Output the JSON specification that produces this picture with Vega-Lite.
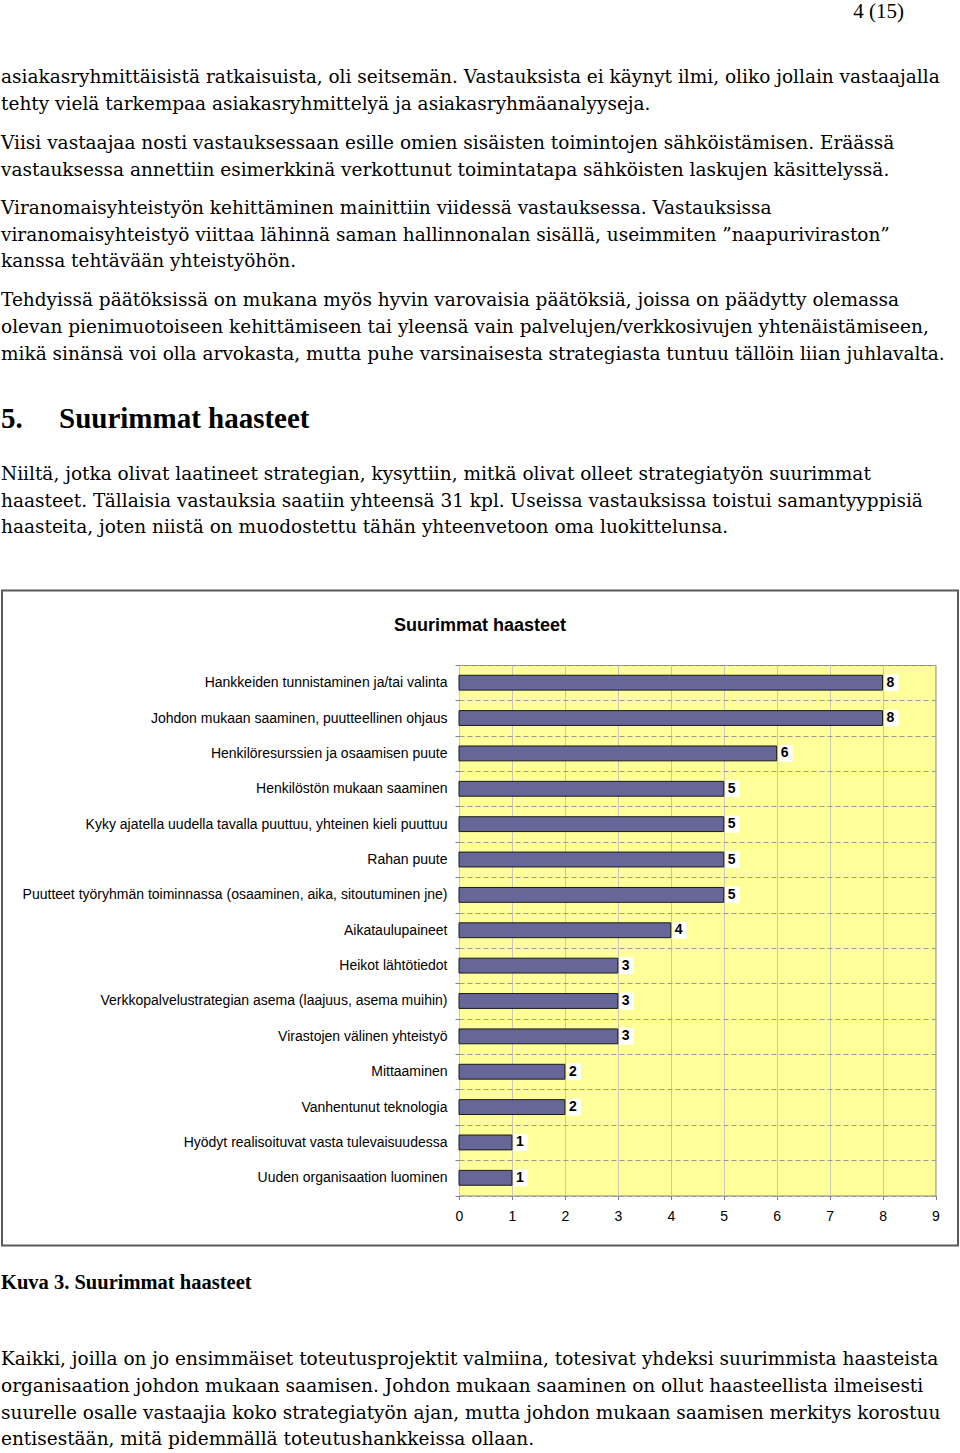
{
  "$schema": "https://vega.github.io/schema/vega-lite/v6.json",
  "padding": 0,
  "background": "white",
  "config": {"view": {"stroke": null}},
  "columns": 1,
  "spacing": 0,
  "bounds": "full",
  "datasets": {
    "header": [{"line": 1, "text": "4 (15)"}],
    "p1": [
      {"line": 1, "text": "asiakasryhmittäisistä ratkaisuista, oli seitsemän. Vastauksista ei käynyt ilmi, oliko jollain vastaajalla"},
      {"line": 2, "text": "tehty vielä tarkempaa asiakasryhmittelyä ja asiakasryhmäanalyyseja."}
    ],
    "p2": [
      {"line": 1, "text": "Viisi vastaajaa nosti vastauksessaan esille omien sisäisten toimintojen sähköistämisen. Eräässä"},
      {"line": 2, "text": "vastauksessa annettiin esimerkkinä verkottunut toimintatapa sähköisten laskujen käsittelyssä."}
    ],
    "p3": [
      {"line": 1, "text": "Viranomaisyhteistyön kehittäminen mainittiin viidessä vastauksessa. Vastauksissa"},
      {"line": 2, "text": "viranomaisyhteistyö viittaa lähinnä saman hallinnonalan sisällä, useimmiten ”naapuriviraston”"},
      {"line": 3, "text": "kanssa tehtävään yhteistyöhön."}
    ],
    "p4": [
      {"line": 1, "text": "Tehdyissä päätöksissä on mukana myös hyvin varovaisia päätöksiä, joissa on päädytty olemassa"},
      {"line": 2, "text": "olevan pienimuotoiseen kehittämiseen tai yleensä vain palvelujen/verkkosivujen yhtenäistämiseen,"},
      {"line": 3, "text": "mikä sinänsä voi olla arvokasta, mutta puhe varsinaisesta strategiasta tuntuu tällöin liian juhlavalta."}
    ],
    "heading": [{"line": 1, "text": "5.\u00a0\u00a0\u00a0\u00a0\u00a0Suurimmat haasteet"}],
    "p5": [
      {"line": 1, "text": "Niiltä, jotka olivat laatineet strategian, kysyttiin, mitkä olivat olleet strategiatyön suurimmat"},
      {"line": 2, "text": "haasteet. Tällaisia vastauksia saatiin yhteensä 31 kpl. Useissa vastauksissa toistui samantyyppisiä"},
      {"line": 3, "text": "haasteita, joten niistä on muodostettu tähän yhteenvetoon oma luokittelunsa."}
    ],
    "caption": [{"line": 1, "text": "Kuva 3. Suurimmat haasteet"}],
    "p6": [
      {"line": 1, "text": "Kaikki, joilla on jo ensimmäiset toteutusprojektit valmiina, totesivat yhdeksi suurimmista haasteista"},
      {"line": 2, "text": "organisaation johdon mukaan saamisen. Johdon mukaan saaminen on ollut haasteellista ilmeisesti"},
      {"line": 3, "text": "suurelle osalle vastaajia koko strategiatyön ajan, mutta johdon mukaan saamisen merkitys korostuu"},
      {"line": 4, "text": "entisestään, mitä pidemmällä toteutushankkeissa ollaan."}
    ],
    "haasteet": [
      {"category": "Hankkeiden tunnistaminen ja/tai valinta", "value": 8},
      {"category": "Johdon mukaan saaminen, puutteellinen ohjaus", "value": 8},
      {"category": "Henkilöresurssien ja osaamisen puute", "value": 6},
      {"category": "Henkilöstön mukaan saaminen", "value": 5},
      {"category": "Kyky ajatella uudella tavalla puuttuu, yhteinen kieli puuttuu", "value": 5},
      {"category": "Rahan puute", "value": 5},
      {"category": "Puutteet työryhmän toiminnassa (osaaminen, aika, sitoutuminen jne)", "value": 5},
      {"category": "Aikataulupaineet", "value": 4},
      {"category": "Heikot lähtötiedot", "value": 3},
      {"category": "Verkkopalvelustrategian asema (laajuus, asema muihin)", "value": 3},
      {"category": "Virastojen välinen yhteistyö", "value": 3},
      {"category": "Mittaaminen", "value": 2},
      {"category": "Vanhentunut teknologia", "value": 2},
      {"category": "Hyödyt realisoituvat vasta tulevaisuudessa", "value": 1},
      {"category": "Uuden organisaation luominen", "value": 1}
    ]
  },
  "concat": [
    {
      "width": 499, "height": 63.5,
      "data": {"name": "header"},
      "mark": {"type": "text", "align": "right", "baseline": "middle", "font": "Liberation Serif", "fontSize": 21, "color": "#000"},
      "encoding": {
        "x": {"datum": 0.94357, "type": "quantitative", "scale": {"domain": [0.47858, 1], "nice": false, "zero": false}, "axis": null},
        "y": {"field": "line", "type": "quantitative", "scale": {"domain": [0.566, 2.962], "reverse": true, "nice": false, "zero": false}, "axis": null},
        "text": {"field": "text"}
      }
    },
    {
      "width": 499, "height": 66,
      "data": {"name": "p1"},
      "mark": {"type": "text", "align": "left", "baseline": "middle", "font": "DejaVu Serif", "fontSize": 18.5, "color": "#000"},
      "encoding": {
        "x": {"datum": 0, "type": "quantitative", "scale": {"domain": [0.47858, 1], "nice": false, "zero": false}, "axis": null},
        "y": {"field": "line", "type": "quantitative", "scale": {"domain": [0.4906, 2.9811], "reverse": true, "nice": false, "zero": false}, "axis": null},
        "text": {"field": "text"}
      }
    },
    {
      "width": 499, "height": 65,
      "data": {"name": "p2"},
      "mark": {"type": "text", "align": "left", "baseline": "middle", "font": "DejaVu Serif", "fontSize": 18.5, "color": "#000"},
      "encoding": {
        "x": {"datum": 0, "type": "quantitative", "scale": {"domain": [0.47858, 1], "nice": false, "zero": false}, "axis": null},
        "y": {"field": "line", "type": "quantitative", "scale": {"domain": [0.4906, 2.9434], "reverse": true, "nice": false, "zero": false}, "axis": null},
        "text": {"field": "text"}
      }
    },
    {
      "width": 499, "height": 92,
      "data": {"name": "p3"},
      "mark": {"type": "text", "align": "left", "baseline": "middle", "font": "DejaVu Serif", "fontSize": 18.5, "color": "#000"},
      "encoding": {
        "x": {"datum": 0, "type": "quantitative", "scale": {"domain": [0.47858, 1], "nice": false, "zero": false}, "axis": null},
        "y": {"field": "line", "type": "quantitative", "scale": {"domain": [0.4906, 3.9623], "reverse": true, "nice": false, "zero": false}, "axis": null},
        "text": {"field": "text"}
      }
    },
    {
      "width": 499, "height": 103.5,
      "data": {"name": "p4"},
      "mark": {"type": "text", "align": "left", "baseline": "middle", "font": "DejaVu Serif", "fontSize": 18.5, "color": "#000"},
      "encoding": {
        "x": {"datum": 0, "type": "quantitative", "scale": {"domain": [0.47858, 1], "nice": false, "zero": false}, "axis": null},
        "y": {"field": "line", "type": "quantitative", "scale": {"domain": [0.4906, 4.3962], "reverse": true, "nice": false, "zero": false}, "axis": null},
        "text": {"field": "text"}
      }
    },
    {
      "width": 499, "height": 69.5,
      "data": {"name": "heading"},
      "mark": {"type": "text", "align": "left", "baseline": "middle", "font": "Liberation Serif", "fontSize": 29, "fontWeight": "bold", "color": "#000"},
      "encoding": {
        "x": {"datum": 0, "type": "quantitative", "scale": {"domain": [0.47858, 1], "nice": false, "zero": false}, "axis": null},
        "y": {"field": "line", "type": "quantitative", "scale": {"domain": [-0.0566, 2.566], "reverse": true, "nice": false, "zero": false}, "axis": null},
        "text": {"field": "text"}
      }
    },
    {
      "width": 499, "height": 127.5,
      "data": {"name": "p5"},
      "mark": {"type": "text", "align": "left", "baseline": "middle", "font": "DejaVu Serif", "fontSize": 18.5, "color": "#000"},
      "encoding": {
        "x": {"datum": 0, "type": "quantitative", "scale": {"domain": [0.47858, 1], "nice": false, "zero": false}, "axis": null},
        "y": {"field": "line", "type": "quantitative", "scale": {"domain": [0.4906, 5.3019], "reverse": true, "nice": false, "zero": false}, "axis": null},
        "text": {"field": "text"}
      }
    },
    {
      "width": 476.5, "height": 530.5,
      "view": {"fill": "#ffff99", "stroke": "#808080", "strokeWidth": 1},
      "layer": [
        {
          "data": {"name": "haasteet"},
          "encoding": {
            "y": {
              "field": "category", "type": "nominal", "sort": null,
              "scale": {"paddingInner": 0, "paddingOuter": 0},
              "axis": {"title": null, "orient": "left", "tickBand": "extent", "grid": true, "gridDash": [5, 3], "gridColor": "#9a9a9a", "gridWidth": 1, "domain": false, "ticks": true, "tickSize": 4, "tickColor": "#808080", "labelFont": "Liberation Sans", "labelFontSize": 14, "labelColor": "#000", "labelPadding": 8, "labelLimit": 600}
            },
            "x": {
              "field": "value", "type": "quantitative",
              "scale": {"domain": [0, 9], "nice": false, "zero": true},
              "axis": {"title": null, "orient": "bottom", "values": [0, 1, 2, 3, 4, 5, 6, 7, 8, 9], "format": "d", "grid": true, "gridColor": "#c8c8b4", "gridWidth": 1, "domain": false, "tickSize": 4, "tickColor": "#808080", "labelFont": "Liberation Sans", "labelFontSize": 14, "labelColor": "#000", "labelPadding": 10, "labelFlush": false}
            }
          },
          "layer": [
            {"mark": {"type": "bar", "height": {"band": 0.42}, "fill": "#666699", "stroke": "#1a1a1a", "strokeWidth": 1}},
            {"mark": {"type": "bar", "height": {"band": 0.48}, "fill": "#ffffff", "xOffset": 2, "x2Offset": 16}, "encoding": {"x2": {"field": "value"}}},
            {"mark": {"type": "text", "align": "left", "baseline": "middle", "dx": 4, "font": "Liberation Sans", "fontSize": 14, "fontWeight": "bold", "color": "#000"}, "encoding": {"text": {"field": "value"}}}
          ]
        },
        {
          "data": {"values": [{"title": "Suurimmat haasteet"}]},
          "layer": [
            {
              "mark": {"type": "rect", "fill": "#ffffff", "fillOpacity": 0, "stroke": "#5a5a5a", "strokeWidth": 2},
              "encoding": {
                "x": {"datum": 0, "type": "quantitative", "scale": {"domain": [0.478032, 0.976463], "nice": false, "zero": false}, "axis": null},
                "x2": {"datum": 1},
                "y": {"datum": 0, "type": "quantitative", "scale": {"domain": [0.11374, 0.923664], "reverse": true, "nice": false, "zero": false}, "axis": null},
                "y2": {"datum": 1}
              }
            },
            {
              "mark": {"type": "text", "align": "center", "baseline": "middle", "font": "Liberation Sans", "fontSize": 18, "fontWeight": "bold", "color": "#000"},
              "encoding": {
                "x": {"datum": 0.5, "type": "quantitative"},
                "y": {"datum": 0.053435, "type": "quantitative"},
                "text": {"field": "title"}
              }
            }
          ]
        }
      ],
      "resolve": {"scale": {"x": "independent", "y": "independent"}}
    },
    {
      "width": 499, "height": 97.5,
      "data": {"name": "caption"},
      "mark": {"type": "text", "align": "left", "baseline": "middle", "font": "Liberation Serif", "fontSize": 20.5, "fontWeight": "bold", "color": "#000"},
      "encoding": {
        "x": {"datum": 0, "type": "quantitative", "scale": {"domain": [0.47858, 1], "nice": false, "zero": false}, "axis": null},
        "y": {"field": "line", "type": "quantitative", "scale": {"domain": [-0.3208, 3.3585], "reverse": true, "nice": false, "zero": false}, "axis": null},
        "text": {"field": "text"}
      }
    },
    {
      "width": 499, "height": 109.5,
      "data": {"name": "p6"},
      "mark": {"type": "text", "align": "left", "baseline": "middle", "font": "DejaVu Serif", "fontSize": 18.5, "color": "#000"},
      "encoding": {
        "x": {"datum": 0, "type": "quantitative", "scale": {"domain": [0.47858, 1], "nice": false, "zero": false}, "axis": null},
        "y": {"field": "line", "type": "quantitative", "scale": {"domain": [0.4906, 4.6226], "reverse": true, "nice": false, "zero": false}, "axis": null},
        "text": {"field": "text"}
      }
    }
  ]
}
